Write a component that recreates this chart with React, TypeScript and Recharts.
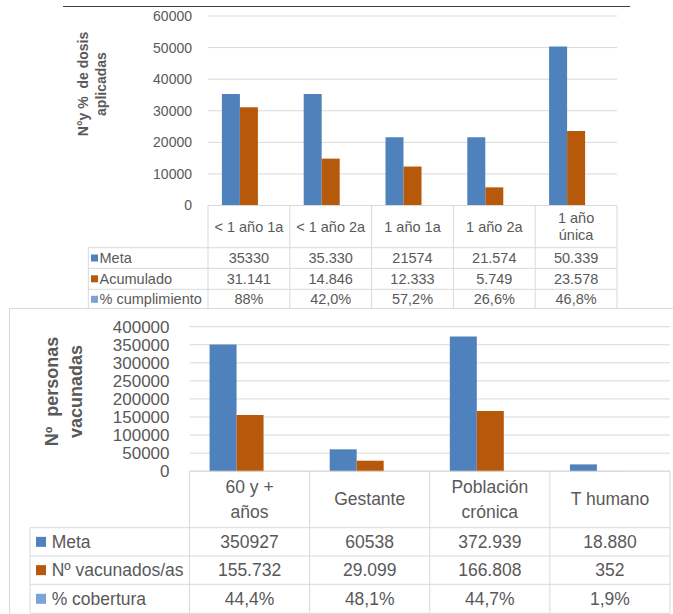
import { BarChart, Bar, XAxis, YAxis, CartesianGrid } from 'recharts';

const FONT = '"Liberation Sans", Arial, sans-serif';
const TEXT = '#595959';
const LINE = '#d9d9d9';
const BLUE = '#4f81bd';
const ORANGE = '#b7590b';
const LIGHT_BLUE = '#7da2d6';

// grafico 1: dosis aplicadas
const dosisCategorias = ['< 1 año 1a', '< 1 año 2a', '1 año 1a', '1 año 2a', '1 año\núnica'];
const dosisMeta = ['35330', '35.330', '21574', '21.574', '50.339'];
const dosisAcumulado = ['31.141', '14.846', '12.333', '5.749', '23.578'];
const dosisCumplimiento = ['88%', '42,0%', '57,2%', '26,6%', '46,8%'];
const dosisTicks = [0, 10000, 20000, 30000, 40000, 50000, 60000];

// grafico 2: personas vacunadas
const vacCategorias = ['60 y +\naños', 'Gestante', 'Población\ncrónica', 'T humano'];
const vacMeta = ['350927', '60538', '372.939', '18.880'];
const vacVacunados = ['155.732', '29.099', '166.808', '352'];
const vacCobertura = ['44,4%', '48,1%', '44,7%', '1,9%'];
const vacTicks = [0, 50000, 100000, 150000, 200000, 250000, 300000, 350000, 400000];

// "35.330" -> 35330, "42,0%" -> 0.42
const toNum = (s: string) =>
  s.endsWith('%') ? Number(s.slice(0, -1).replace(',', '.')) / 100 : Number(s.replace(/\./g, ''));

type Row = { label: string; color: string; key: string; values: string[] };

type Cfg = {
  width: number;
  height: number;
  margin: { top: number; right: number; bottom: number; left: number };
  yWidth: number;
  tickMargin: number;
  tickFont: number;
  ticks: number[];
  categories: string[];
  rows: Row[];
  gap: string;
  bounds: number[]; // bottoms of header and rows, measured from the axis line
  lineH: number;
  fontSize: number;
  legendLeft: number;
  square: number;
  squareX: number;
  labelX: number;
};

function TableChart({ cfg }: { cfg: Cfg }) {
  const { width, height, margin, yWidth, bounds } = cfg;
  const plotLeft = margin.left + yWidth;
  const plotRight = width - margin.right;
  const band = (plotRight - plotLeft) / cfg.categories.length;
  const xAxisH = bounds[bounds.length - 1] + 0.7;
  const axisTop = height - margin.bottom - xAxisH;

  const data = cfg.categories.map((cat, i) => {
    const d: Record<string, string | number> = { cat };
    cfg.rows.forEach((r) => (d[r.key] = toNum(r.values[i])));
    return d;
  });

  const txt = { fontFamily: FONT, fontSize: cfg.fontSize, fill: TEXT };

  const renderTick = (props: any) => {
    const { x, payload } = props;
    const i: number = props.index ?? payload.index;
    const left = x - band / 2;
    const right = x + band / 2;
    const bottom = axisTop + bounds[bounds.length - 1];
    const lines = String(payload.value).split('\n');
    const headerMid = axisTop + bounds[0] / 2;
    const rowMid = (k: number) => axisTop + (bounds[k] + bounds[k + 1]) / 2;
    return (
      <g>
        <line x1={left} x2={left} y1={axisTop} y2={bottom} stroke={LINE} />
        {i === cfg.categories.length - 1 && (
          <line x1={right} x2={right} y1={axisTop} y2={bottom} stroke={LINE} />
        )}
        {bounds.map((b) => (
          <line key={b} x1={left} x2={right} y1={axisTop + b} y2={axisTop + b} stroke={LINE} />
        ))}
        {lines.map((t, k) => (
          <text
            key={k}
            x={x}
            y={headerMid + (k - (lines.length - 1) / 2) * cfg.lineH}
            textAnchor="middle"
            dominantBaseline="central"
            {...txt}
          >
            {t}
          </text>
        ))}
        {cfg.rows.map((r, k) => (
          <text key={r.key} x={x} y={rowMid(k)} textAnchor="middle" dominantBaseline="central" {...txt}>
            {r.values[i]}
          </text>
        ))}
        {i === 0 && (
          <g>
            <line x1={cfg.legendLeft} x2={cfg.legendLeft} y1={axisTop + bounds[0]} y2={bottom} stroke={LINE} />
            {bounds.map((b) => (
              <line key={b} x1={cfg.legendLeft} x2={left} y1={axisTop + b} y2={axisTop + b} stroke={LINE} />
            ))}
            {cfg.rows.map((r, k) => (
              <g key={r.key}>
                <rect
                  x={cfg.squareX}
                  y={rowMid(k) - cfg.square / 2}
                  width={cfg.square}
                  height={cfg.square}
                  fill={r.color}
                />
                <text x={cfg.labelX} y={rowMid(k)} dominantBaseline="central" {...txt}>
                  {r.label}
                </text>
              </g>
            ))}
          </g>
        )}
      </g>
    );
  };

  return (
    <BarChart width={width} height={height} data={data} margin={margin} barCategoryGap={cfg.gap} barGap={0}>
      <CartesianGrid vertical={false} stroke={LINE} />
      <XAxis
        dataKey="cat"
        height={xAxisH}
        interval={0}
        tickLine={false}
        axisLine={{ stroke: LINE }}
        tick={renderTick}
      />
      <YAxis
        width={yWidth}
        domain={[0, cfg.ticks[cfg.ticks.length - 1]]}
        ticks={cfg.ticks}
        interval={0}
        tickLine={false}
        axisLine={false}
        tickSize={0}
        tickMargin={cfg.tickMargin}
        tick={{ fill: TEXT, fontSize: cfg.tickFont, fontFamily: FONT }}
      />
      {cfg.rows.map((r) => (
        <Bar key={r.key} dataKey={r.key} fill={r.color} isAnimationActive={false} />
      ))}
    </BarChart>
  );
}

const dosisCfg: Cfg = {
  width: 673,
  height: 310,
  margin: { top: 16, right: 56, bottom: 0, left: 148 },
  yWidth: 60,
  tickMargin: 16,
  tickFont: 14,
  ticks: dosisTicks,
  categories: dosisCategorias,
  rows: [
    { label: 'Meta', color: BLUE, key: 'meta', values: dosisMeta },
    { label: 'Acumulado', color: ORANGE, key: 'acum', values: dosisAcumulado },
    { label: '% cumplimiento', color: LIGHT_BLUE, key: 'pct', values: dosisCumplimiento },
  ],
  gap: '17%',
  bounds: [42.2, 62.8, 83.8, 103.8],
  lineH: 17.7,
  fontSize: 14.5,
  legendLeft: 88.3,
  square: 7,
  squareX: 91,
  labelX: 99.5,
};

const vacCfg: Cfg = {
  width: 673,
  height: 314,
  margin: { top: 26.7, right: 3, bottom: 0, left: 129.5 },
  yWidth: 60,
  tickMargin: 20,
  tickFont: 17,
  ticks: vacTicks,
  categories: vacCategorias,
  rows: [
    { label: 'Meta', color: BLUE, key: 'meta', values: vacMeta },
    { label: 'Nº vacunados/as', color: ORANGE, key: 'vac', values: vacVacunados },
    { label: '% cobertura', color: LIGHT_BLUE, key: 'cob', values: vacCobertura },
  ],
  gap: '16.7%',
  bounds: [56.5, 84.8, 113.1, 142.1],
  lineH: 24.6,
  fontSize: 17.5,
  legendLeft: 30,
  square: 10,
  squareX: 36,
  labelX: 51.7,
};

function Title({ xs, cy, size, lines }: { xs: number[]; cy: number; size: number; lines: string[] }) {
  return (
    <>
      {lines.map((t, k) => (
        <text
          key={k}
          x={xs[k]}
          y={cy}
          transform={`rotate(-90 ${xs[k]} ${cy})`}
          textAnchor="middle"
          dominantBaseline="central"
          fontFamily={FONT}
          fontWeight="bold"
          fontSize={size}
          fill={TEXT}
          xmlSpace="preserve"
        >
          {t}
        </text>
      ))}
    </>
  );
}

export default function App() {
  return (
    <div
      style={{
        position: 'absolute',
        left: 0,
        top: 0,
        width: 673,
        height: 614,
        overflow: 'hidden',
        background: '#fff',
      }}
    >
      <div style={{ position: 'absolute', left: 63, top: 5.5, width: 567, height: 1.5, background: '#3f3f3f' }} />
      <div style={{ position: 'absolute', left: 0, top: 0 }}>
        <TableChart cfg={dosisCfg} />
      </div>
      <div
        style={{
          position: 'absolute',
          left: 9,
          top: 308,
          width: 700,
          height: 400,
          borderLeft: `1px solid ${LINE}`,
          borderTop: `1px solid ${LINE}`,
          background: '#fff',
        }}
      />
      <div style={{ position: 'absolute', left: 0, top: 300 }}>
        <TableChart cfg={vacCfg} />
      </div>
      <svg width={673} height={614} style={{ position: 'absolute', left: 0, top: 0, pointerEvents: 'none' }}>
        <Title xs={[83, 100.5]} cy={84} size={14} lines={['N°y %  de dosis', 'aplicadas']} />
        <Title xs={[52, 76]} cy={391.5} size={18} lines={['Nº  personas', 'vacunadas']} />
      </svg>
    </div>
  );
}
